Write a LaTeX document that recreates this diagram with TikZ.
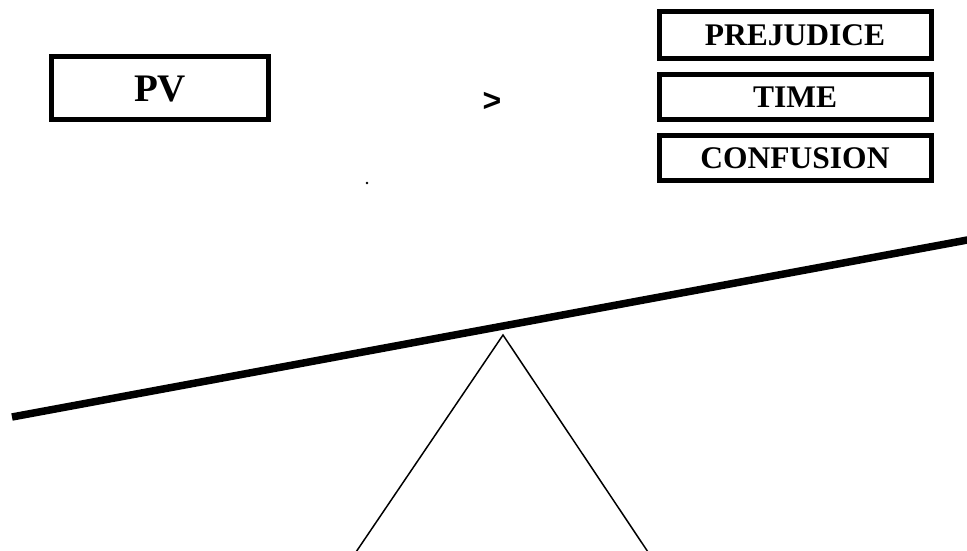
\documentclass[tikz,border=0pt]{standalone}
\usepackage{fontspec}
\setmainfont{Liberation Serif}
\newfontfamily\gtfont{Liberation Sans}
\begin{document}
\begin{tikzpicture}[x=1pt,y=-1pt,
  wordbox/.style={draw=black,line width=5pt,rectangle,inner sep=0pt,
    text height=21pt,text depth=0pt,font=\fontsize{31.5}{36}\selectfont\bfseries},
  bigbox/.style={draw=black,line width=5pt,rectangle,inner sep=0pt,
    text height=27pt,text depth=0pt,font=\fontsize{39}{44}\selectfont\bfseries},
  beam/.style={line width=7.5pt,line cap=butt},
  fulcrum/.style={line width=1.5pt,line join=miter}]
\useasboundingbox (0,0) rectangle (967,550);
\clip (0,0) rectangle (967,550);
\node[bigbox,minimum width=217pt,minimum height=63pt] (pv) at (160,88) {PV};
\node[font=\fontsize{32}{36}\selectfont\gtfont\bfseries,anchor=base,inner sep=0pt] (gt) at (492,111) {>};
\node[wordbox,minimum width=272pt,minimum height=47pt] (prej) at (795,35) {PREJUDICE};
\node[wordbox,minimum width=272pt,minimum height=45pt] (time) at (795,97) {TIME};
\node[wordbox,minimum width=272pt,minimum height=45pt] (conf) at (795,158) {CONFUSION};
\fill[black] (367,183) circle (1.3pt);
\coordinate (bl) at (12,417);
\coordinate (br) at (970,239.5);
\draw[beam] (bl) -- (br);
\coordinate (apex) at (503,335);
\coordinate (fl) at (356,552);
\coordinate (fr) at (648,552);
\draw[fulcrum] (fl) -- (apex) -- (fr);
\end{tikzpicture}
\end{document}
